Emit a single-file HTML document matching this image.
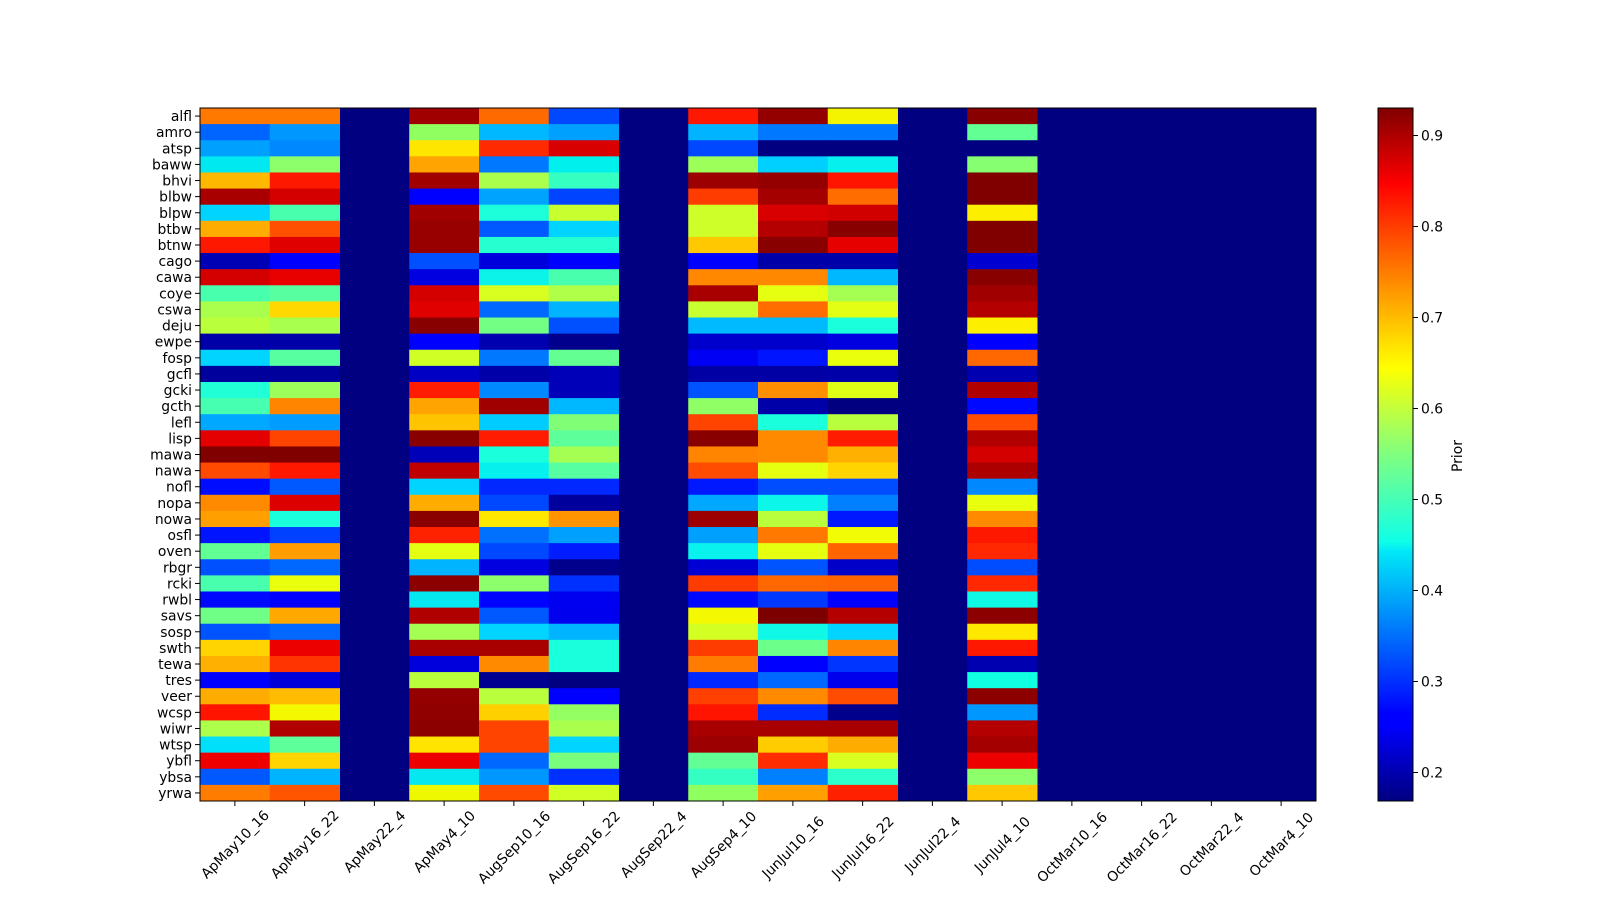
<!DOCTYPE html>
<html><head><meta charset="utf-8"><style>
html,body{margin:0;padding:0;background:#fff;width:1600px;height:900px;overflow:hidden}
svg{display:block;font-family:"DejaVu Sans","Liberation Sans",sans-serif}
</style></head><body>
<svg id="s" width="1600" height="900" xmlns="http://www.w3.org/2000/svg">
<defs><linearGradient id="jet" x1="0" y1="1" x2="0" y2="0">
<stop offset="0" stop-color="#000080"/><stop offset="0.11" stop-color="#0000ff"/><stop offset="0.125" stop-color="#0000ff"/>
<stop offset="0.36" stop-color="#00e8f8"/><stop offset="0.375" stop-color="#10ffe8"/><stop offset="0.5" stop-color="#80ff80"/>
<stop offset="0.625" stop-color="#ffff00"/><stop offset="0.66" stop-color="#ffe000"/><stop offset="0.875" stop-color="#ff1000"/><stop offset="0.89" stop-color="#ff0000"/><stop offset="1" stop-color="#800000"/>
</linearGradient></defs>
</svg>
<script>
var rows="alfl amro atsp baww bhvi blbw blpw btbw btnw cago cawa coye cswa deju ewpe fosp gcfl gcki gcth lefl lisp mawa nawa nofl nopa nowa osfl oven rbgr rcki rwbl savs sosp swth tewa tres veer wcsp wiwr wtsp ybfl ybsa yrwa".split(" ");
var cols="ApMay10_16 ApMay16_22 ApMay22_4 ApMay4_10 AugSep10_16 AugSep16_22 AugSep22_4 AugSep4_10 JunJul10_16 JunJul16_22 JunJul22_4 JunJul4_10 OctMar10_16 OctMar16_22 OctMar22_4 OctMar4_10".split(" ");
var A=`#ff7800 #ff7800 #a00000 #ff6a00 #0048ff
#0064ff #0098ff #90ff60 #00b8ff #00a0ff
#00a0ff #0088ff #ffe600 #ff2a00 #d80000
#00e8f0 #8cff6a #ffa400 #0078ff #00f0ee
#ffb800 #ff1800 #a00000 #aaff4c #36ffc2
#a80000 #d40000 #0000ff #00a4ff #0044ff
#00d4ff #48ffae #a00000 #1cffda #c8ff2e
#ffac00 #ff5000 #980000 #0058ff #00d4ff
#ff1800 #e00000 #980000 #26ffd0 #26ffd0
#0000b4 #0000ff #0050ff #0000dc #0000ff
#d40000 #e80000 #0000e0 #0cf4ea #48ffae
#48ffae #58ffa0 #d40000 #d8ff20 #b0ff48
#aaff4c #ffd800 #e00000 #0068ff #00b4ff
#baff3c #a8ff4e #880000 #72ff84 #0050ff
#0000a8 #0000a8 #0000ff #0000b0 #00008c
#00d4ff #58ffa0 #d0ff26 #0078ff #64ff92
#00009c #00009c #0000c4 #0000a8 #0000b8
#20ffd6 #9cff5a #ff1c00 #0088ff #0000b8
#46ffb0 #ff8400 #ffa400 #a00000 #00b8ff
#00a8ff #009cff #ffc400 #00ccff #80ff76
#e40000 #ff4400 #880000 #ff1c00 #5cff9a
#800000 #800000 #0000b8 #1affdc #a4ff52
#ff4a00 #ff1800 #c00000 #06f0ee #58ffa0
#000cff #0058ff #00d4ff #0028ff #0028ff
#ff8a00 #dc0000 #ffac00 #0048ff #00009c
#ffa000 #1affdc #8a0000 #ffe800 #ff9400
#0014ff #0040ff #ff2200 #0070ff #00a0ff
#62ff94 #ff9c00 #e4ff12 #0048ff #001cff
#0050ff #0068ff #00b4ff #0000e0 #00008c
#48ffae #eaff0c #8c0000 #8cff6a #0030ff
#0008ff #0000ff #06e8f0 #0004ff #0000f0
#70ff86 #ffa800 #b00000 #0058ff #0000ee
#0054ff #0068ff #a4ff52 #00d4ff #00b4ff
#ffd400 #ec0000 #a80000 #a80000 #1affdc
#ffb000 #ff3400 #0000dc #ff8a00 #1affdc
#0000ff #0000d8 #baff3c #000090 #000080
#ffac00 #ffbc00 #940000 #baff3c #0000ff
#ff1400 #f4f800 #900000 #ffd000 #94ff62
#acff4a #b00000 #8c0000 #ff4400 #aaff4c
#00e0fa #5cff9a #ffe400 #ff4400 #00d4ff
#ee0000 #ffd400 #ec0000 #0068ff #7aff7c
#0058ff #00b4ff #06e8f0 #0098ff #0030ff
#ff7c00 #ff5400 #eef800 #ff4a00 #d0ff26`.split("\n").map(function(l){return l.trim().split(" ")});
var B=`#ff1800 #940000 #f4f400 #880000
#00b4ff #0078ff #0078ff #62ff94
#0048ff #000080 #000080 #000080
#9cff5a #00d0ff #06f0ee #86ff70
#9c0000 #940000 #ff1400 #800000
#ff3c00 #a40000 #ff6c00 #800000
#ceff28 #d80000 #d00000 #fcf000
#ceff28 #b40000 #880000 #800000
#ffc800 #880000 #e60000 #800000
#0000ff #0000a8 #0000a8 #0000d0
#ff8800 #ff8800 #00b8ff #880000
#a80000 #e6ff10 #a4ff52 #a00000
#c8ff2e #ff6c00 #e2ff14 #b40000
#00baff #00baff #1affdc #fcf000
#0000cc #0000cc #0000e0 #0000ff
#0000f4 #0014ff #eaff0c #ff6800
#0000a4 #0000a4 #0000a8 #0000b0
#0054ff #ff8e00 #e0ff16 #b00000
#90ff66 #0000a8 #000080 #0008ff
#ff4400 #1affdc #b8ff3e #ff4c00
#880000 #ff8a00 #ff1c00 #b00000
#ff8400 #ff8a00 #ffb000 #d40000
#ff4c00 #e6ff10 #ffd400 #ac0000
#0018ff #004cff #004cff #0088ff
#00a8ff #0cf6ea #0080ff #e8ff0e
#9c0000 #baff3c #0018ff #ff8a00
#00a0ff #ff7800 #f2fc04 #ff1800
#0af2ee #e6ff10 #ff6400 #ff2800
#0000d4 #0054ff #0000c8 #004cff
#ff3c00 #ff6800 #ff6400 #ff2800
#0008ff #0038ff #0000ff #10f8e6
#f4f800 #7c0000 #b40000 #8c0000
#d4ff22 #10f8e6 #00d4ff #ffe800
#ff3c00 #6cff8a #ff8400 #ff1800
#ff7c00 #0000ff #0034ff #0000b0
#0028ff #0068ff #0000ec #10ffe0
#ff4000 #ff8a00 #ff4c00 #8c0000
#ff1400 #002cff #00008c #0098ff
#a80000 #a80000 #a80000 #b40000
#9c0000 #ffcc00 #ffac00 #a40000
#62ff94 #ff2c00 #d8ff20 #ec0000
#34ffc2 #0080ff #2cffcc #8cff6a
#90ff60 #ffa000 #ff2000 #ffc800`.split("\n").map(function(l){return l.trim().split(" ")});
var X0=200,Y0=108,W=1116,H=693,cw=W/16,rh=H/43;
var h='<rect x="'+X0+'" y="'+Y0+'" width="'+W+'" height="'+H+'" fill="#000080"/>';
var ci=[0,1,3,4,5],cj=[7,8,9,11];
for(var r=0;r<43;r++){
 var y=Y0+r*rh;
 for(var k=0;k<5;k++)h+='<rect x="'+(X0+ci[k]*cw)+'" y="'+y+'" width="'+(cw+0.5)+'" height="'+(rh+0.5)+'" fill="'+A[r][k]+'"/>';
 for(var k=0;k<4;k++)h+='<rect x="'+(X0+cj[k]*cw)+'" y="'+y+'" width="'+(cw+0.5)+'" height="'+(rh+0.5)+'" fill="'+B[r][k]+'"/>';
 var cy=Y0+(r+0.5)*rh;
 h+='<line x1="'+(X0-5)+'" x2="'+X0+'" y1="'+cy+'" y2="'+cy+'" stroke="#000" stroke-width="1"/>';
 h+='<text x="'+(X0-8)+'" y="'+(cy+5)+'" font-size="13.9" text-anchor="end">'+rows[r]+'</text>';
}
h+='<rect x="'+X0+'" y="'+Y0+'" width="'+W+'" height="'+H+'" fill="none" stroke="#000" stroke-width="1"/>';
for(var c=0;c<16;c++){
 var cx=X0+(c+0.5)*cw;
 h+='<line x1="'+cx+'" x2="'+cx+'" y1="'+(Y0+H)+'" y2="'+(Y0+H+5)+'" stroke="#000"/>';
 var L=cols[c].length*8.1, d=(L+13)*0.7071/2, ty=Y0+H+10+d;
 h+='<text x="'+cx+'" y="'+ty+'" dy="5" font-size="13.9" text-anchor="middle" transform="rotate(-45 '+cx+' '+ty+')">'+cols[c]+'</text>';
}
var bx=1378,bw=35;
h+='<rect x="'+bx+'" y="'+Y0+'" width="'+bw+'" height="'+H+'" fill="url(#jet)" stroke="#000" stroke-width="1"/>';
for(var t=2;t<=9;t++){
 var ty=772.5-(t-2)*91;
 h+='<line x1="'+(bx+bw)+'" x2="'+(bx+bw+5)+'" y1="'+ty+'" y2="'+ty+'" stroke="#000"/>';
 h+='<text x="'+(bx+bw+8)+'" y="'+(ty+5)+'" font-size="13.9">0.'+t+'</text>';
}
h+='<text x="0" y="0" font-size="13.9" text-anchor="middle" transform="translate(1462 456) rotate(-90)">Prior</text>';
document.getElementById('s').insertAdjacentHTML('beforeend',h);
</script>
</body></html>
